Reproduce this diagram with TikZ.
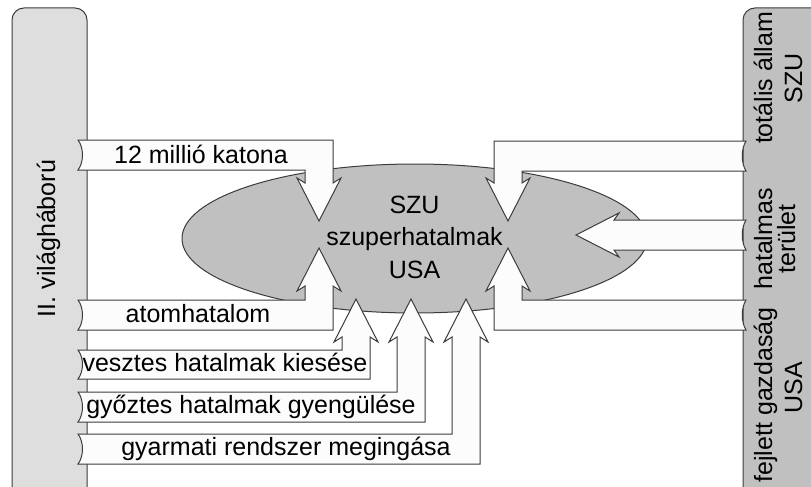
\documentclass[tikz,border=0pt]{standalone}
\usepackage{fontspec}
\setmainfont{Liberation Sans}
\usetikzlibrary{shapes.geometric}
\definecolor{linec}{HTML}{3C3C3C}
\definecolor{lpanel}{HTML}{DEDEDE}
\definecolor{rpanel}{HTML}{C0C0C0}
\definecolor{corefill}{HTML}{C0C0C0}
\definecolor{arrfill}{HTML}{FCFCFC}
\tikzset{
  panel/.style={draw=linec, line width=1pt, rounded corners=12pt},
  blk/.style={draw=linec, fill=arrfill, line width=1pt, line join=miter},
  lbl/.style={font=\fontsize{25}{30}\selectfont, inner sep=0pt, anchor=base},
}
\begin{document}
\begin{tikzpicture}[x=1pt,y=-1pt]
\useasboundingbox (0,0) rectangle (811,487);
\fill[white] (0,0) rectangle (811,487);
\begin{scope}
\clip (0,0) rectangle (811,487);
% side panels
\draw[panel, fill=lpanel] (12,8) rectangle (87,500);
\draw[panel, fill=rpanel] (743,8) rectangle (840,500);
% central ellipse
\node[draw=linec, fill=corefill, ellipse, line width=1pt, inner sep=0pt,
      minimum width=465pt, minimum height=149pt] (core) at (414.5,238.5) {};
% left arrows
\draw[blk] (78,140) -- (333,140) -- (333,183) -- (341,178) -- (319,221) -- (297,178) -- (305,183) -- (305,170) -- (78,170) .. controls (84,162) and (84,148) .. (78,140) -- cycle;
\draw[blk] (78,330) -- (333,330) -- (333,286) -- (341,291) -- (319,248) -- (297,291) -- (305,286) -- (305,300) -- (78,300) .. controls (84,308) and (84,322) .. (78,330) -- cycle;
% right arrows
\draw[blk] (746,141) -- (494,141) -- (494,183) -- (486,178) -- (508,221) -- (530,178) -- (522,183) -- (522,171) -- (746,171) .. controls (741,163) and (741,149) .. (746,141) -- cycle;
\draw[blk] (746,220) -- (614,220) -- (619,213) -- (576,235) -- (619,257) -- (614,250) -- (746,250) .. controls (741,242) and (741,228) .. (746,220) -- cycle;
\draw[blk] (746,330) -- (494,330) -- (494,286) -- (486,291) -- (508,248) -- (530,291) -- (522,286) -- (522,300) -- (746,300) .. controls (741,308) and (741,322) .. (746,330) -- cycle;
% bottom arrows
\draw[blk] (78,379) -- (370,379) -- (370,337) -- (378,342) -- (356,299) -- (334,342) -- (342,337) -- (342,350) -- (78,350) .. controls (84,358) and (84,371) .. (78,379) -- cycle;
\draw[blk] (78,422) -- (425,422) -- (425,337) -- (433,342) -- (411,299) -- (389,342) -- (397,337) -- (397,392) -- (78,392) .. controls (84,400) and (84,414) .. (78,422) -- cycle;
\draw[blk] (78,464) -- (480,464) -- (480,337) -- (488,342) -- (466,299) -- (444,342) -- (452,337) -- (452,434) -- (78,434) .. controls (84,442) and (84,456) .. (78,464) -- cycle;
\end{scope}
% texts
\node[font=\fontsize{25}{32.5}\selectfont, align=center, inner sep=0pt] (ctext) at (414.5,237) {SZU\\szuperhatalmak\\USA};
\node[lbl] (t1) at (201,163) {12 millió katona};
\node[lbl] (t2) at (198,322) {atomhatalom};
\node[lbl] (t3) at (225,371) {vesztes hatalmak kiesése};
\node[lbl] (t4) at (251,413) {győztes hatalmak gyengülése};
\node[lbl] (t5) at (286,455) {gyarmati rendszer megingása};
\node[lbl, rotate=90] (lw) at (55,238.5) {II. világháború};
\node[lbl, rotate=90] (r1) at (772,78) {totális állam};
\node[lbl, rotate=90] (r2) at (802,78) {SZU};
\node[lbl, rotate=90] (r3) at (772,239) {hatalmas};
\node[lbl, rotate=90] (r4) at (795,239) {terület};
\node[lbl, rotate=90] (r5) at (772,395) {fejlett gazdaság};
\node[lbl, rotate=90] (r6) at (802,388) {USA};
\end{tikzpicture}
\end{document}
